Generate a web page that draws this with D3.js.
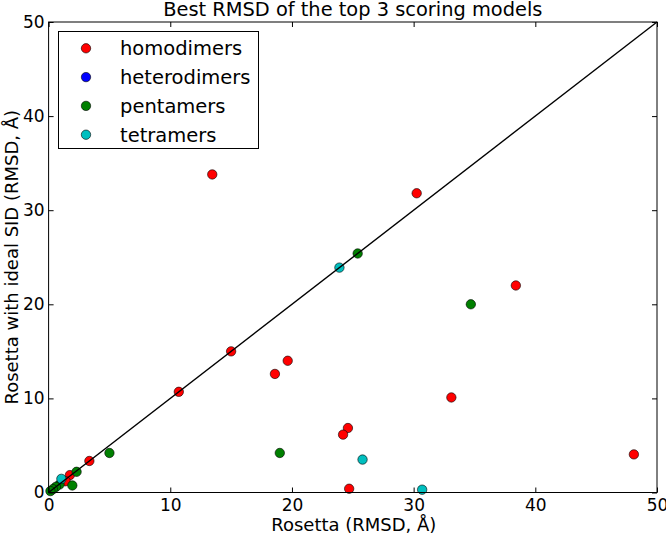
<!DOCTYPE html>
<html><head><meta charset="utf-8">
<script src="https://cdn.jsdelivr.net/npm/d3@7"></script>
<style>body{margin:0;background:#fff}svg{display:block}text{font-family:"DejaVu Sans",sans-serif;fill:#000}</style>
</head><body><svg id="c" width="666" height="535"></svg>
<script>
const seriesNames = ["homodimers","heterodimers","pentamers","tetramers"];
const seriesColors = ["#ff0000","#0000ff","#008000","#00bfbf"];
const homodimers = [[13.45,33.8],[30.25,31.8],[38.4,22.0],[33.1,10.1],[48.1,4.05],[15.0,15.0],[10.7,10.7],[18.6,12.6],[19.65,14.0],[24.6,6.85],[24.2,6.15],[24.7,0.4],[3.35,3.35],[1.75,1.85],[1.4,1.2]];
const heterodimers = [];
const pentamers = [[34.7,20.0],[25.4,25.4],[19.0,4.2],[5.0,4.2],[2.3,2.2],[1.95,0.75],[0.9,0.85],[0.6,0.6],[0.35,0.35],[0.15,0.15]];
const tetramers = [[23.9,23.9],[25.8,3.5],[30.7,0.3],[1.05,1.45]];
const xTicks = [0,10,20,30,40,50];
const yTicks = [0,10,20,30,40,50];
const allSeries = [homodimers, heterodimers, pentamers, tetramers];

const svg = d3.select("#c");
const L=48.6, R=657, T=22, B=492.5;
const x = d3.scaleLinear().domain([0,50]).range([L,R]);
const y = d3.scaleLinear().domain([0,50]).range([B,T]);

allSeries.forEach((s,i)=>{
  svg.append("g").selectAll("circle").data(s).join("circle")
    .attr("cx",d=>x(d[0])).attr("cy",d=>y(d[1])).attr("r",4.7)
    .attr("fill",seriesColors[i]).attr("stroke","#000").attr("stroke-width",0.6);
});
svg.append("line").attr("x1",x(0)).attr("y1",y(0)).attr("x2",x(50)).attr("y2",y(50))
  .attr("stroke","#000").attr("stroke-width",1.4);

const fs = "17px";
const gx = svg.append("g").attr("transform",`translate(0,${B})`)
  .call(d3.axisBottom(x).tickValues(xTicks).tickSize(-5).tickPadding(6.5).tickFormat(d3.format("d")));
const gy = svg.append("g").attr("transform",`translate(${L},0)`)
  .call(d3.axisLeft(y).tickValues(yTicks).tickSize(-5).tickPadding(4).tickFormat(d3.format("d")));
const gt = svg.append("g").attr("transform",`translate(0,${T})`)
  .call(d3.axisTop(x).tickValues(xTicks).tickSize(-5).tickFormat(""));
const gr = svg.append("g").attr("transform",`translate(${R},0)`)
  .call(d3.axisRight(y).tickValues(yTicks).tickSize(-5).tickFormat(""));
[gx,gy,gt,gr].forEach(g=>{
  g.select(".domain").remove();
  g.selectAll("line").attr("stroke","#000");
  g.selectAll("text").style("font-size",fs).attr("font-family","DejaVu Sans");
});
svg.append("rect").attr("x",L).attr("y",T).attr("width",R-L).attr("height",B-T)
  .attr("fill","none").attr("stroke","#000").attr("stroke-width",1);

svg.append("text").attr("x",(L+R)/2).attr("y",16).attr("text-anchor","middle")
  .style("font-size","19.4px").text("Best RMSD of the top 3 scoring models");
svg.append("text").attr("x",(L+R)/2 + 1).attr("y",530.5).attr("text-anchor","middle")
  .style("font-size","18px").text("Rosetta (RMSD, Å)");
svg.append("text").attr("transform",`translate(17.5,${(T+B)/2}) rotate(-90)`).attr("text-anchor","middle")
  .style("font-size","18px").text("Rosetta with ideal SID (RMSD, Å)");

const lg = svg.append("g");
lg.append("rect").attr("x",58.5).attr("y",31.5).attr("width",200).attr("height",117)
  .attr("fill","#fff").attr("stroke","#000").attr("stroke-width",1);
seriesNames.forEach((n,i)=>{
  const yy = 48.3 + i*28.8;
  lg.append("circle").attr("cx",86).attr("cy",yy).attr("r",4.7)
    .attr("fill",seriesColors[i]).attr("stroke","#000").attr("stroke-width",0.6);
  lg.append("text").attr("x",120).attr("y",yy).attr("dy","0.36em").style("font-size","19.5px").text(n);
});
</script></body></html>
